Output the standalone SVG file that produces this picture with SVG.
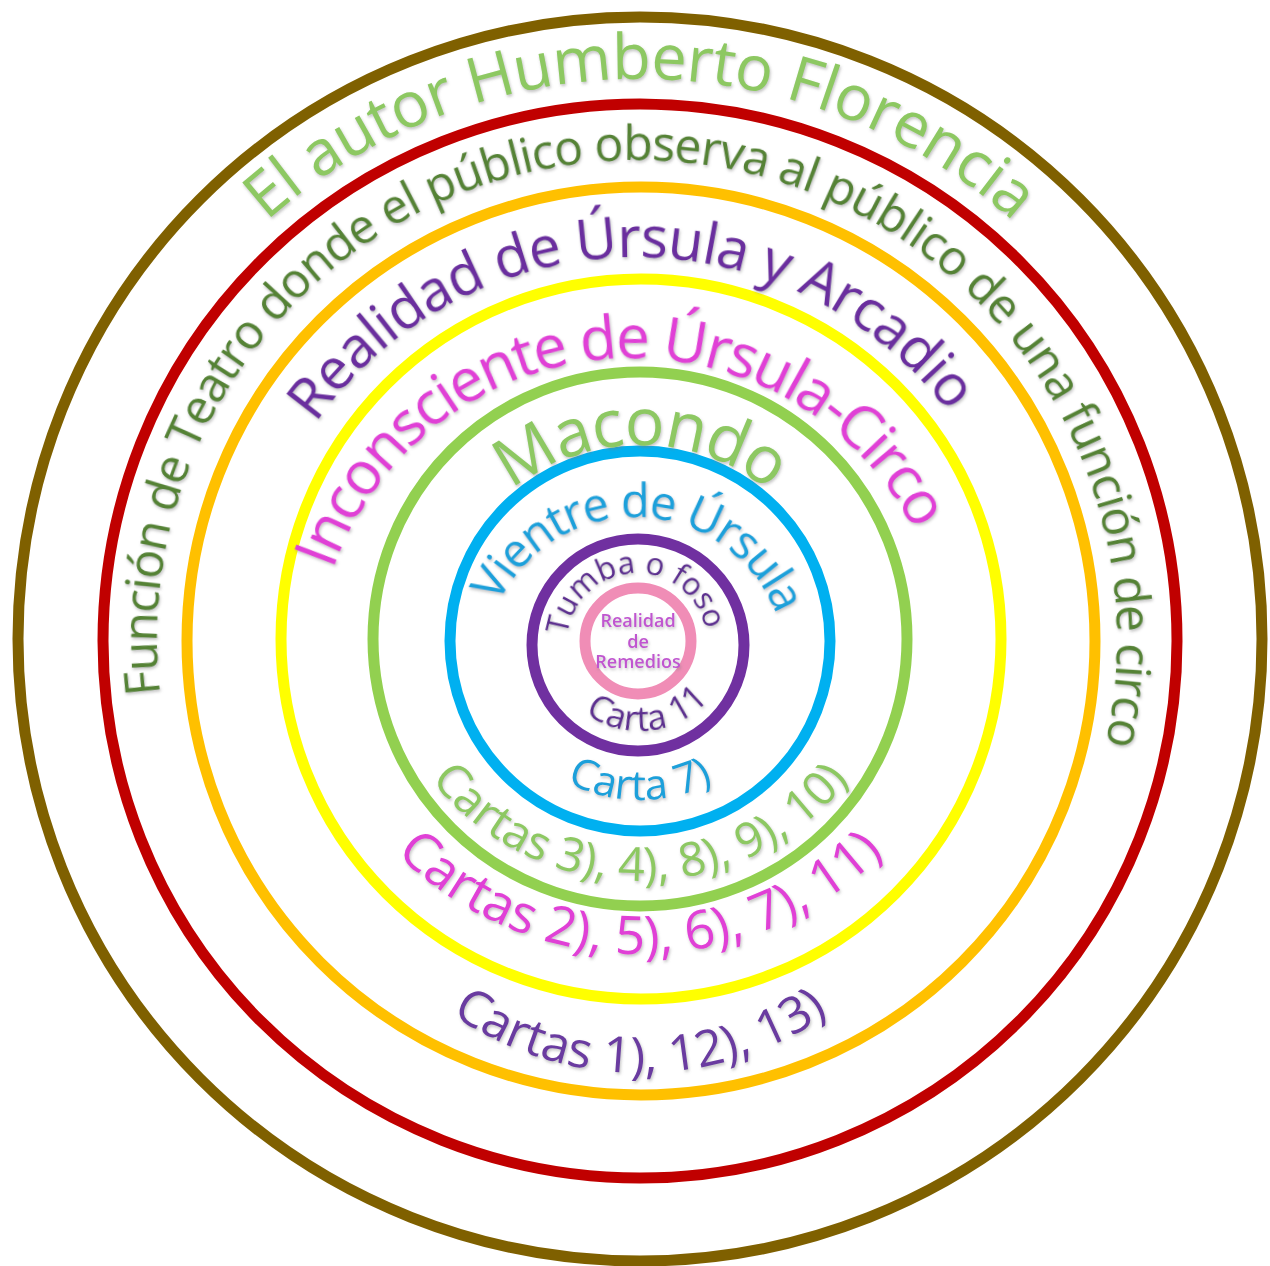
<svg xmlns="http://www.w3.org/2000/svg" width="1270" height="1266" viewBox="0 0 1270 1266">
<style>
.ring{fill:none;stroke-width:11}
.t{font-family:"Open Sans","Liberation Sans",sans-serif;filter:url(#glow)}
</style>
<defs>
<filter id="glow" x="-10%" y="-10%" width="120%" height="120%">
<feGaussianBlur in="SourceAlpha" stdDeviation="1.6" result="b"/>
<feOffset in="b" dx="1" dy="1.5" result="o"/>
<feFlood flood-color="#7a7a7a" flood-opacity="0.45"/>
<feComposite in2="o" operator="in" result="s"/>
<feMerge><feMergeNode in="s"/><feMergeNode in="SourceGraphic"/></feMerge>
</filter>
<path id="p1" d="M640,1201 A561,561 0 0 1 640,79 A561,561 0 0 1 640,1201"/>
<path id="p2" d="M637,1120 A480,480 0 0 1 637,160 A480,480 0 0 1 637,1120"/>
<path id="p3" d="M636,1041 A392,392 0 0 1 636,257 A392,392 0 0 1 636,1041"/>
<path id="p4" d="M632,992 A317,317 0 0 1 632,358 A317,317 0 0 1 632,992"/>
<path id="p5" d="M640,855 A205,205 0 0 1 640,445 A205,205 0 0 1 640,855"/>
<path id="p6" d="M635,819 A151,151 0 0 1 635,517 A151,151 0 0 1 635,819"/>
<path id="p7" d="M637,713 A70,70 0 0 1 637,573 A70,70 0 0 1 637,713"/>
<path id="b9" d="M640,549 A91,91 0 0 0 640,731 A91,91 0 0 0 640,549"/>
<path id="b10" d="M640,482 A159,159 0 0 0 640,800 A159,159 0 0 0 640,482"/>
<path id="b11" d="M640,349 A266,266 0 0 0 640,881 A266,266 0 0 0 640,349"/>
<path id="b12" d="M640,264 A345,345 0 0 0 640,954 A345,345 0 0 0 640,264"/>
<path id="b13" d="M640,413 A330,330 0 0 0 640,1073 A330,330 0 0 0 640,413"/>
</defs>
<rect width="1270" height="1266" fill="#fff"/>
<g id="rings">
<circle class="ring" cx="640" cy="639" r="622" stroke="#7F6000"/>
<circle class="ring" cx="640" cy="641" r="537" stroke="#C00000"/>
<circle class="ring" cx="641" cy="641" r="454" stroke="#FFC000"/>
<circle class="ring" cx="641" cy="639" r="360" stroke="#FFFF00"/>
<circle class="ring" cx="640" cy="639" r="267" stroke="#92D050"/>
<circle class="ring" cx="640" cy="641" r="190" stroke="#00B0F0"/>
<circle class="ring" cx="638" cy="645" r="106" stroke="#7030A0"/>
<circle class="ring" cx="638" cy="641" r="53" stroke="#F08DB6"/>
</g>
<g id="autor"><text class="t" font-size="63" letter-spacing="-0.5" fill="#8DC862" text-anchor="middle"><textPath href="#p1" startOffset="50%">El autor Humberto Florencia</textPath></text></g>
<g id="funcion"><text class="t" font-size="48" letter-spacing="-1" fill="#548235" text-anchor="middle" transform="rotate(3 637 640)"><textPath href="#p2" startOffset="50%">Función de Teatro donde el público observa al público de una función de circo</textPath></text></g>
<g id="realidad-ursula"><text class="t" font-size="57" letter-spacing="-0.8" fill="#6A2E9E" text-anchor="middle" transform="rotate(-1 636 649)"><textPath href="#p3" startOffset="50%">Realidad de Úrsula y Arcadio</textPath></text></g>
<g id="inconsciente"><text class="t" font-size="60" letter-spacing="-2.2" fill="#E040D6" text-anchor="middle" transform="rotate(-4 632 675)"><textPath href="#p4" startOffset="50%">Inconsciente de Úrsula-Circo</textPath></text></g>
<g id="macondo"><text class="t" font-size="66" letter-spacing="-1.5" fill="#8DC862" text-anchor="middle"><textPath href="#p5" startOffset="50%">Macondo</textPath></text></g>
<g id="vientre"><text class="t" font-size="47" letter-spacing="-1.6" fill="#1DA0DA" text-anchor="middle" transform="rotate(2 635 668)"><textPath href="#p6" startOffset="50%">Vientre de Úrsula</textPath></text></g>
<g id="tumba"><text class="t" font-size="31" fill="#5C2D8E" text-anchor="middle" transform="rotate(-2.5 637 643)"><textPath href="#p7" startOffset="50%">Tumba o foso</textPath></text></g>
<g id="remedios"><text class="t" font-size="18" font-weight="600" fill="#C055D0" text-anchor="middle"><tspan x="638" y="627">Realidad</tspan><tspan x="638" y="648">de</tspan><tspan x="638" y="668">Remedios</tspan></text></g>
<g id="carta11"><text class="t" font-size="35" fill="#5C2D8E" text-anchor="middle" transform="rotate(-6 640 640)"><textPath href="#b9" startOffset="50%">Carta 11</textPath></text></g>
<g id="carta7"><text class="t" font-size="42" fill="#1DA0DA" text-anchor="middle"><textPath href="#b10" startOffset="50%">Carta 7)</textPath></text></g>
<g id="cartas3"><text class="t" font-size="47" fill="#8DC862" text-anchor="middle"><textPath href="#b11" startOffset="50%">Cartas 3), 4), 8), 9), 10)</textPath></text></g>
<g id="cartas2"><text class="t" font-size="53" fill="#E040D6" text-anchor="middle"><textPath href="#b12" startOffset="50%">Cartas 2), 5), 6), 7), 11)</textPath></text></g>
<g id="cartas1"><text class="t" font-size="50" fill="#6A3BA0" text-anchor="middle"><textPath href="#b13" startOffset="50%">Cartas 1), 12), 13)</textPath></text></g>
<g id="connectors"></g>
</svg>
